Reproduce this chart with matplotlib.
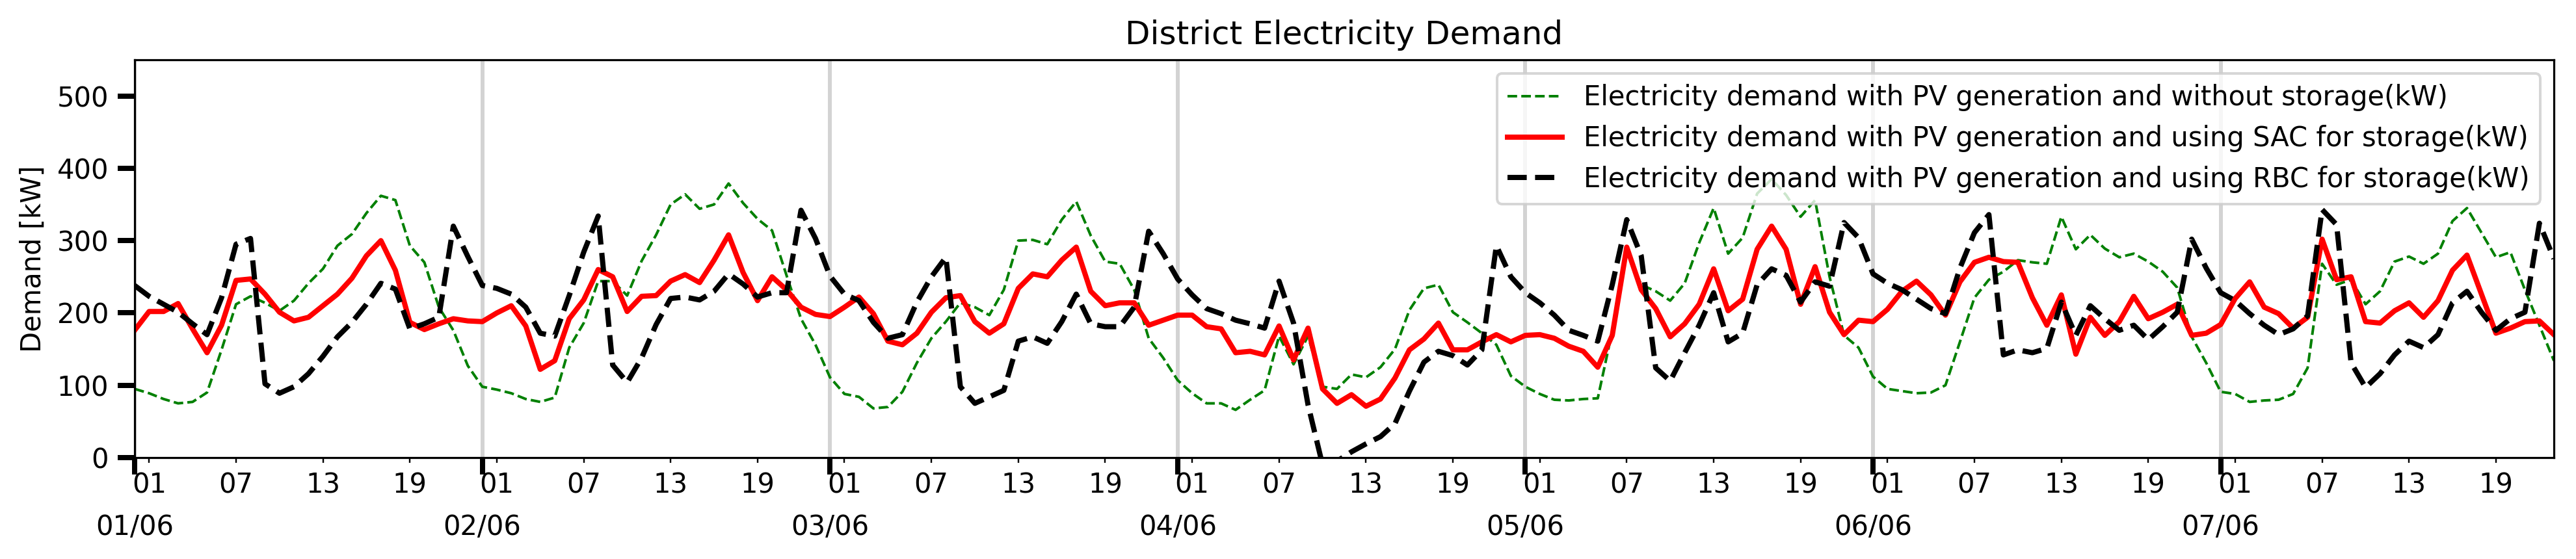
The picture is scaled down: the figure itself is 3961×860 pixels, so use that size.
import matplotlib
matplotlib.use("Agg")
import matplotlib.pyplot as plt
import matplotlib.dates as mdates
import numpy as np
import pandas as pd

# Hourly timestamps: 7 days, 01/06 to 07/06
start_date = "2021-06-01 00:00"
n_hours = 168

no_storage = [
    95, 89, 81, 75, 77, 90, 149, 212, 223, 214, 203, 217, 241, 261, 293, 309, 338, 362, 356, 293, 270, 208, 176, 127,
    98, 94, 89, 81, 77, 83, 152, 186, 244, 244, 224, 272, 308, 350, 364, 344, 350, 379, 352, 330, 314, 252, 192, 156,
    111, 88, 84, 68, 70, 91, 131, 165, 188, 214, 208, 197, 232, 300, 301, 295, 329, 354, 307, 271, 268, 232, 165, 138,
    107, 89, 75, 75, 66, 80, 93, 168, 129, 168, 98, 95, 115, 111, 125, 150, 204, 234, 239, 201, 187, 172, 156, 113,
    98, 88, 80, 79, 81, 82, 175, 285, 239, 230, 217, 241, 297, 345, 282, 304, 365, 385, 363, 333, 356, 250, 169, 152,
    112, 95, 92, 89, 90, 100, 160, 221, 246, 257, 273, 270, 268, 333, 288, 308, 289, 277, 282, 271, 257, 235, 167, 131,
    91, 88, 77, 79, 80, 88, 124, 268, 239, 246, 212, 230, 271, 278, 268, 282, 327, 345, 311, 277, 284, 232, 183, 134,
]

sac_storage = [
    176, 202, 202, 213, 178, 145, 183, 245, 247, 226, 201, 189, 194, 210, 226, 248, 279, 300, 259, 187, 177, 185, 192, 189,
    188, 200, 210, 182, 122, 134, 192, 218, 260, 250, 202, 223, 224, 244, 253, 242, 273, 308, 256, 217, 250, 232, 208, 198,
    195, 208, 222, 199, 161, 156, 172, 201, 221, 224, 188, 172, 185, 234, 254, 250, 273, 291, 230, 210, 214, 214, 183, 190,
    197, 197, 181, 178, 145, 147, 142, 182, 135, 179, 95, 75, 87, 71, 81, 110, 149, 164, 186, 149, 149, 160, 170, 160,
    169, 170, 165, 154, 147, 125, 169, 291, 232, 206, 167, 185, 212, 261, 203, 219, 288, 320, 288, 212, 264, 201, 170, 190,
    188, 205, 230, 244, 225, 197, 243, 270, 277, 271, 270, 221, 183, 225, 143, 194, 169, 188, 223, 192, 201, 212, 169, 172,
    184, 220, 243, 208, 199, 179, 194, 302, 246, 250, 188, 186, 203, 214, 194, 217, 259, 280, 226, 172, 179, 188, 189, 170,
]

rbc_storage = [
    238, 223, 212, 201, 185, 170, 221, 295, 303, 102, 89, 98, 116, 140, 167, 187, 212, 241, 233, 178, 185, 194, 320, 278,
    238, 234, 226, 208, 172, 168, 224, 284, 334, 128, 104, 138, 184, 220, 222, 218, 230, 254, 240, 222, 228, 228, 342, 303,
    251, 226, 217, 187, 165, 170, 215, 250, 277, 98, 75, 84, 93, 161, 167, 158, 188, 226, 185, 181, 181, 208, 313, 282,
    247, 225, 206, 199, 190, 185, 179, 244, 186, 73, -10, -5, 8, 19, 29, 47, 92, 132, 147, 141, 128, 149, 293, 250,
    228, 214, 197, 176, 169, 161, 239, 329, 279, 124, 106, 145, 183, 228, 160, 172, 239, 261, 252, 215, 243, 237, 325, 304,
    254, 241, 232, 219, 206, 199, 262, 311, 336, 142, 149, 145, 151, 215, 169, 210, 192, 176, 183, 163, 181, 201, 302, 262,
    228, 217, 199, 183, 170, 178, 196, 343, 322, 131, 97, 116, 142, 161, 152, 170, 214, 230, 201, 176, 192, 201, 324, 275,
]

labels = [
    "Electricity demand with PV generation and without storage(kW)",
    "Electricity demand with PV generation and using SAC for storage(kW)",
    "Electricity demand with PV generation and using RBC for storage(kW)",
]

times = pd.date_range(start_date, periods=n_hours, freq="h")

DPI = 288
FS = 10.4
fig = plt.figure(figsize=(3961 / DPI, 860 / DPI), dpi=DPI)
ax = fig.add_axes([207 / 3961, 156 / 860, 3720 / 3961, 612 / 860])

ax.plot(times, no_storage, color="green", linestyle="--", linewidth=1, label=labels[0])
ax.plot(times, sac_storage, color="red", linestyle="-", linewidth=2, label=labels[1])
ax.plot(times, rbc_storage, color="black", linestyle="--", linewidth=2, label=labels[2])

ax.set_xlim(times[0], times[-1])
ax.set_ylim(0, 550)

ax.xaxis.set_major_locator(mdates.DayLocator())
ax.xaxis.set_major_formatter(mdates.DateFormatter("%d/%m"))
ax.xaxis.set_minor_locator(mdates.HourLocator(byhour=[1, 7, 13, 19]))
ax.xaxis.set_minor_formatter(mdates.DateFormatter("%H"))

ax.tick_params(which="major", length=6.5, width=2, labelsize=FS)
ax.tick_params(which="minor", labelsize=FS)
ax.xaxis.set_tick_params(which="major", pad=15)

ax.grid(which="major", axis="x", color="lightgray", linewidth=1.5)

ax.set_ylabel("Demand [kW]", fontsize=FS)
ax.set_title("District Electricity Demand", fontsize=12.5)
ax.legend(loc="upper right", fontsize=FS)

fig.savefig("out.png", dpi=DPI)
